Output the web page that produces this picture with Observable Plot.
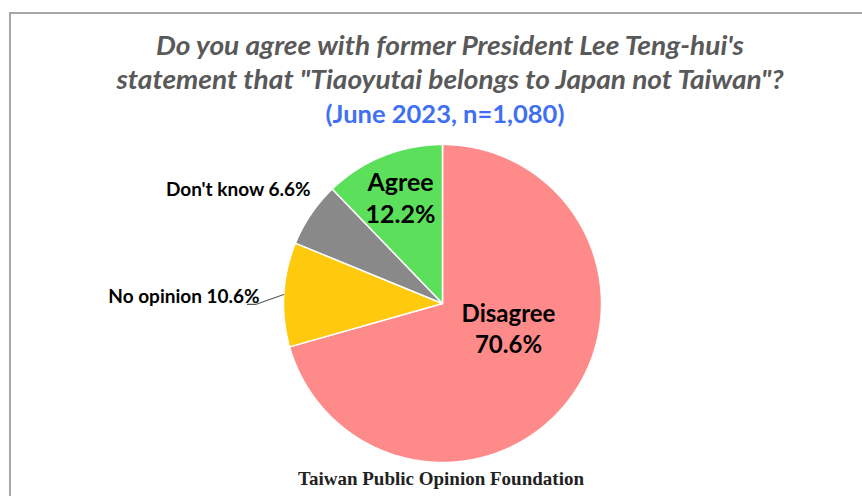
<!DOCTYPE html>
<html><head><meta charset="utf-8">
<script src="https://cdn.jsdelivr.net/npm/d3@7"></script>
<script src="https://cdn.jsdelivr.net/npm/@observablehq/plot@0.6"></script>
<style>
html,body{margin:0;padding:0;background:#fff;}
#wrap{position:relative;width:862px;height:496px;overflow:hidden;background:#fff;}
#frame{position:absolute;left:9px;top:12px;width:900px;height:600px;border:2px solid #a6a6a6;box-sizing:border-box;}
.t{position:absolute;left:0;width:900px;text-align:center;font-family:Lato,sans-serif;font-weight:700;white-space:nowrap;}
#t1,#t2{font-style:italic;color:#595959;font-size:26px;transform:scaleX(1.08);transform-origin:450px 0;}
#t1{top:29px;} #t2{top:63px;}
#t3{top:98px;color:#3F6FF2;font-size:25.5px;left:-5px;}
#plot{position:absolute;left:0;top:140px;}
#cap{position:absolute;top:468px;left:0;width:882px;text-align:center;font-family:"Liberation Serif",serif;font-weight:700;font-size:19px;color:#222;}
</style></head>
<body>
<div id="wrap">
  <div id="frame"></div>
  <div class="t" id="t1">Do you agree with former President Lee Teng-hui's</div>
  <div class="t" id="t2">statement that "Tiaoyutai belongs to Japan not Taiwan"?</div>
  <div class="t" id="t3">(June 2023, n=1,080)</div>
  <div id="plot"></div>
  <div id="cap">Taiwan Public Opinion Foundation</div>
</div>
<script>
const categories = ["Disagree", "No opinion", "Don't know", "Agree"];
const values = [70.6, 10.6, 6.6, 12.2];
const labelTexts = ["Disagree\n70.6%", "No opinion 10.6%", "Don't know 6.6%", "Agree\n12.2%"];
const colors = ["#FF8A8A", "#FFC90E", "#898989", "#5CE05C"];

// label layout (data units, pie radius = 1)
const labelLayout = {
  "Disagree":   {x: 0.415, y: -0.151, anchor: "middle", size: 24},
  "No opinion": {x: -1.15, y: 0.05, anchor: "end", size: 19},
  "Don't know": {x: -0.83, y: 0.723, anchor: "end", size: 19},
  "Agree":      {x: -0.264, y: 0.673, anchor: "middle", size: 25}
};
const leaderStart = {cat: "No opinion", x: -1.226, y: -0.006, elbowX: -1.176};

const rows = categories.map((c, i) => ({cat: c, value: values[i], label: labelTexts[i]}));
const arcs = d3.pie().sort(null).value(d => d.value)(rows);

const poly = [];
for (const s of arcs) {
  const n = Math.max(2, Math.ceil((s.endAngle - s.startAngle) / 0.005));
  poly.push({cat: s.data.cat, x: 0, y: 0});
  for (let i = 0; i <= n; i++) {
    const a = s.startAngle + (s.endAngle - s.startAngle) * i / n;
    poly.push({cat: s.data.cat, x: Math.sin(a), y: Math.cos(a)});
  }
}

const labels = rows.map(r => ({...r, ...labelLayout[r.cat]}));
const leadArc = arcs.find(s => s.data.cat === leaderStart.cat);
const mid = (leadArc.startAngle + leadArc.endAngle) / 2;
const leader = [
  {x: leaderStart.x, y: leaderStart.y},
  {x: leaderStart.elbowX, y: leaderStart.y},
  {x: Math.sin(mid), y: Math.cos(mid)}
];

const txt = (anchor) => Plot.text(labels.filter(d => d.anchor === anchor), {
  x: "x", y: "y", text: "label", textAnchor: anchor, fontSize: d => d.size,
  fontWeight: "bold", fill: "#000", fontFamily: "Lato", lineHeight: 1.3
});

const chart = Plot.plot({
  width: 862, height: 330, margin: 0,
  x: {domain: [-1, 1], range: [283, 601], axis: null},
  y: {domain: [-1, 1], range: [322, 4], axis: null},
  color: {domain: categories, range: colors},
  style: {background: "transparent", overflow: "visible"},
  marks: [
    Plot.line(poly, {x: "x", y: "y", z: "cat", fill: "cat", stroke: "white", strokeWidth: 1.5, curve: "linear-closed"}),
    Plot.line(leader, {x: "x", y: "y", stroke: "#595959", strokeWidth: 1.2}),
    txt("middle"),
    txt("end")
  ]
});
document.getElementById("plot").appendChild(chart);
</script>
</body></html>
